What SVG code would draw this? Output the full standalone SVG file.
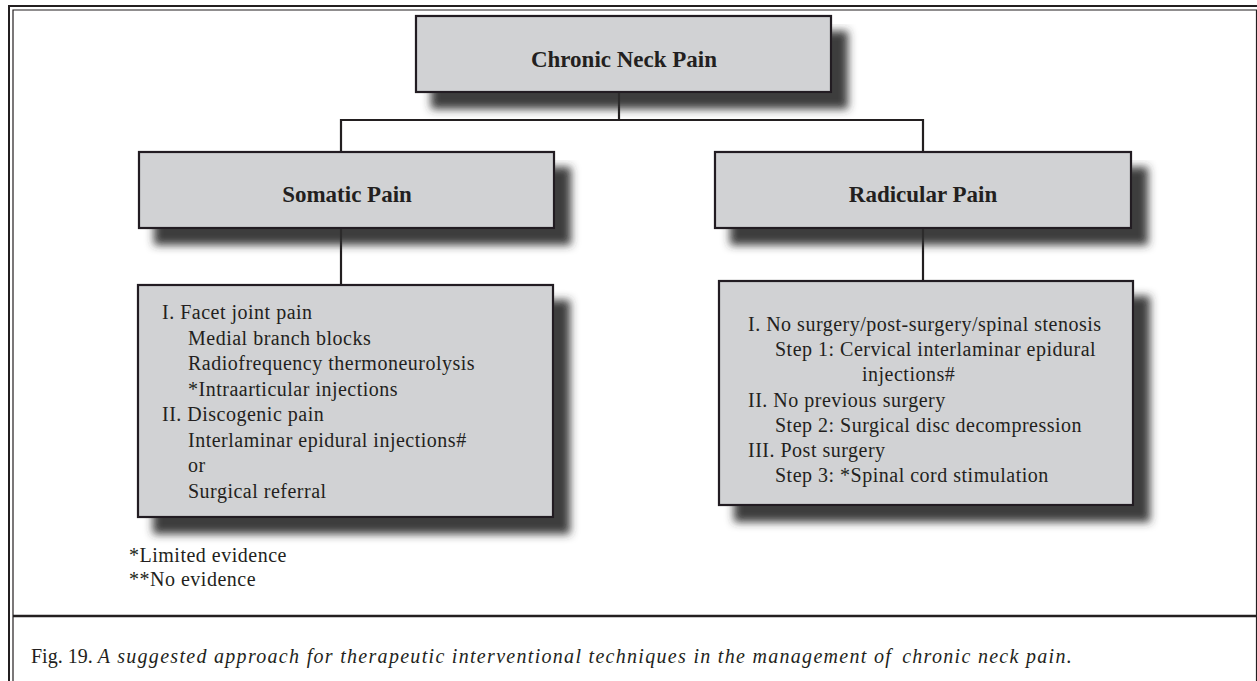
<svg xmlns="http://www.w3.org/2000/svg" width="1257" height="681" viewBox="0 0 1257 681">
<defs>
<filter id="sh" x="-10%" y="-10%" width="130%" height="150%">
<feGaussianBlur in="SourceAlpha" stdDeviation="4" result="b"/>
<feOffset in="b" dx="16" dy="16" result="o"/>
<feFlood flood-color="#2e2e2e" flood-opacity="0.92"/>
<feComposite in2="o" operator="in" result="s"/>
<feMerge><feMergeNode in="s"/><feMergeNode in="SourceGraphic"/></feMerge>
</filter>
<style>
.box{fill:#d1d2d4;stroke:#231f20;stroke-width:2.2}
.ttl{font-family:"Liberation Serif","Times New Roman",serif;font-weight:bold;font-size:23px;fill:#231f20;text-anchor:middle}
.txt{font-family:"Liberation Serif","Times New Roman",serif;font-size:20px;letter-spacing:0.5px;fill:#231f20}
.ln{stroke:#231f20;stroke-width:2.2;fill:none}
.fr{stroke:#231f20;fill:none}
.cap{font-family:"Liberation Serif","Times New Roman",serif;font-size:20px;fill:#231f20}
</style>
</defs>
<rect width="1257" height="681" fill="#ffffff"/>
<g id="frame">
<path class="fr" stroke-width="2" d="M9,681 V6 H1257"/>
<path class="fr" stroke-width="1.2" d="M13,681 V10 H1256.5 V681"/>
<line class="fr" stroke-width="2.4" x1="13" y1="616" x2="1256" y2="616"/>
</g>
<g id="connectors">
<path class="ln" d="M619,92 V120"/>
<path class="ln" d="M341,152 V120 H923 V152"/>
<path class="ln" d="M341,228 V285"/>
<path class="ln" d="M923,228 V281"/>
</g>
<g id="chronic">
<rect class="box" x="416" y="16" width="415" height="76" filter="url(#sh)"/>
<text class="ttl" x="624" y="67">Chronic Neck Pain</text>
</g>
<g id="somatic">
<rect class="box" x="139" y="152" width="415" height="76" filter="url(#sh)"/>
<text class="ttl" x="347" y="202">Somatic Pain</text>
</g>
<g id="radicular">
<rect class="box" x="715" y="152" width="416" height="76" filter="url(#sh)"/>
<text class="ttl" x="923" y="202">Radicular Pain</text>
</g>
<g id="somatic-detail">
<rect class="box" x="138" y="285" width="415" height="232" filter="url(#sh)"/>
<text class="txt" x="162" y="319">I. Facet joint pain</text>
<text class="txt" x="188" y="344.5">Medial branch blocks</text>
<text class="txt" x="188" y="370">Radiofrequency thermoneurolysis</text>
<text class="txt" x="188" y="395.5">*Intraarticular injections</text>
<text class="txt" x="162" y="421">II. Discogenic pain</text>
<text class="txt" x="188" y="446.5">Interlaminar epidural injections#</text>
<text class="txt" x="188" y="472">or</text>
<text class="txt" x="188" y="497.5">Surgical referral</text>
</g>
<g id="radicular-detail">
<rect class="box" x="719" y="281" width="414" height="224" filter="url(#sh)"/>
<text class="txt" x="748" y="331">I. No surgery/post-surgery/spinal stenosis</text>
<text class="txt" x="775" y="356">Step 1: Cervical interlaminar epidural</text>
<text class="txt" x="862" y="381">injections#</text>
<text class="txt" x="748" y="407">II. No previous surgery</text>
<text class="txt" x="775" y="432">Step 2: Surgical disc decompression</text>
<text class="txt" x="748" y="457">III. Post surgery</text>
<text class="txt" x="775" y="482">Step 3: *Spinal cord stimulation</text>
</g>
<g id="legend">
<text class="txt" x="129" y="562">*Limited evidence</text>
<text class="txt" x="129" y="586">**No evidence</text>
</g>
<g id="caption">
<text class="cap" x="31" y="663">Fig. 19. <tspan font-style="italic" letter-spacing="1.3">A suggested approach for therapeutic interventional techniques in the management of</tspan><tspan font-style="italic" letter-spacing="1.3" dx="10">chronic neck pain.</tspan></text>
</g>
</svg>
